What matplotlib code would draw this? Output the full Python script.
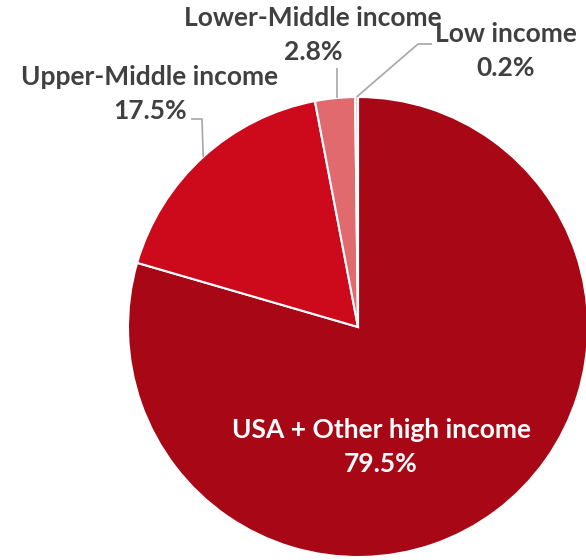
import numpy as np
import matplotlib
matplotlib.use("Agg")
import matplotlib.pyplot as plt

# Share of total by income group
categories = ["USA + Other high income", "Upper-Middle income",
              "Lower-Middle income", "Low income"]
shares = [79.5, 17.5, 2.8, 0.2]
colors = ["#A80716", "#CC0A1C", "#E06A6E", "#F4B9B9"]

plt.rcParams["font.family"] = ["Lato", "DejaVu Sans"]

W, H = 586, 560
fig = plt.figure(figsize=(W / 100, H / 100), dpi=100)
cx, cy, r = 358, 327, 230
ax = fig.add_axes([(cx - r) / W, (H - cy - r) / H, 2 * r / W, 2 * r / H])

wedges, _ = ax.pie(shares, colors=colors, startangle=90, counterclock=False,
                   radius=1, wedgeprops=dict(edgecolor="white", linewidth=1.5))
ax.set_xlim(-1, 1)
ax.set_ylim(-1, 1)
ax.set_aspect("equal")
ax.axis("off")

def px(x, y):
    """Pixel position -> data coordinates of the pie axes."""
    return (x - cx) / r, (cy - y) / r

def rim(w, frac=0.5, rad=1.0):
    ang = np.deg2rad(w.theta1 + (w.theta2 - w.theta1) * frac)
    return rad * np.cos(ang), rad * np.sin(ang)

txt = "#404040"
fs = 19
ls = 1.5

# Large slice label inside
x, y = px(381, 447)
ax.text(x, y, f"{categories[0]}\n{shares[0]:.1f}%", ha="center", va="center",
        color="white", fontsize=fs, fontweight="bold", linespacing=ls)

# Outside labels with leader lines
line_kw = dict(color="#A6A6A6", lw=1.2, clip_on=False, solid_capstyle="butt")

# Upper-Middle
x, y = px(150, 94)
ax.text(x, y, f"{categories[1]}\n{shares[1]:.1f}%", ha="center", va="center",
        color=txt, fontsize=fs, fontweight="bold", linespacing=ls,
        clip_on=False)
ex, ey = rim(wedges[1], 0.5)
p1 = px(191, 119)
p2 = px(202, 119)
ax.plot([p1[0], p2[0], ex], [p1[1], p2[1], ey], **line_kw)

# Lower-Middle
x, y = px(313, 35)
ax.text(x, y, f"{categories[2]}\n{shares[2]:.1f}%", ha="center", va="center",
        color=txt, fontsize=fs, fontweight="bold", linespacing=ls,
        clip_on=False)
ex, ey = rim(wedges[2], 0.45)
top = px(0, 68)[1]
ax.plot([ex, ex], [top, ey], **line_kw)

# Low income
x, y = px(506, 51)
ax.text(x, y, f"{categories[3]}\n{shares[3]:.1f}%", ha="center", va="center",
        color=txt, fontsize=fs, fontweight="bold", linespacing=ls,
        clip_on=False)
ex, ey = rim(wedges[3], 0.5)
q1 = px(418, 44)
q2 = px(432, 44)
ax.plot([ex, q1[0], q2[0]], [ey, q1[1], q2[1]], **line_kw)

fig.savefig("out.png", dpi=100)
